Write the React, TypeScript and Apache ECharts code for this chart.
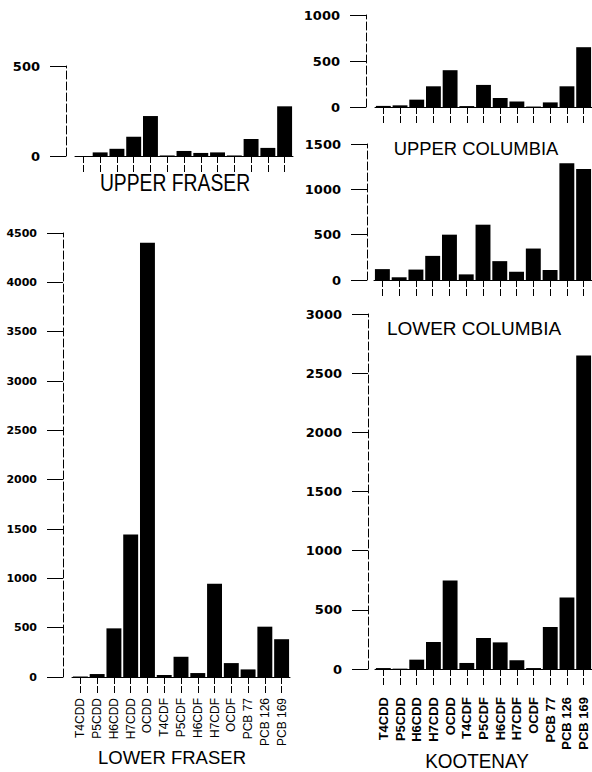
import React, { useEffect, useRef } from "react";
import * as echarts from "echarts";

const categories = ["T4CDD", "P5CDD", "H6CDD", "H7CDD", "OCDD", "T4CDF", "P5CDF", "H6CDF", "H7CDF", "OCDF", "PCB 77", "PCB 126", "PCB 169"];
const upperFraser = [0, 20, 40, 107, 222, 3, 28, 17, 20, 3, 95, 45, 276];
const lowerFraser = [5, 30, 493, 1443, 4400, 20, 205, 40, 946, 141, 77, 510, 383];
const upperColumbia = [12, 18, 80, 225, 400, 10, 240, 98, 60, 5, 50, 225, 650];
const lowerColumbia = [120, 30, 115, 266, 500, 62, 610, 208, 91, 347, 110, 1288, 1223];
const kootenay = [8, 3, 79, 228, 748, 51, 262, 225, 73, 8, 355, 605, 2650];

const titles = ["UPPER FRASER", "LOWER FRASER", "UPPER COLUMBIA", "LOWER COLUMBIA", "KOOTENAY"];

export default function App() {
  const ref = useRef<HTMLDivElement>(null);
  useEffect(() => {
    if (!ref.current) return;
    const chart = echarts.init(ref.current, null, { renderer: "svg" });
    const panels = [
      { data: upperFraser, max: 500, grid: { left: 75, top: 66, width: 218, height: 90 }, offset: 9, labels: null, yFont: 13 },
      { data: lowerFraser, max: 4500, grid: { left: 72, top: 233, width: 218, height: 444 }, offset: 9, labels: { margin: 21, fontSize: 12, fontWeight: "normal" }, yFont: 11 },
      { data: upperColumbia, max: 1000, grid: { left: 375, top: 15, width: 218, height: 92 }, offset: 9, labels: null, yFont: 13 },
      { data: lowerColumbia, max: 1500, grid: { left: 374, top: 144, width: 218, height: 136 }, offset: 7, labels: null, yFont: 13 },
      { data: kootenay, max: 3000, grid: { left: 375, top: 314, width: 218, height: 355 }, offset: 7, labels: { margin: 28, fontSize: 13, fontWeight: "bold" }, yFont: 13 },
    ];
    const titlePos = [
      { x: 175, y: 183, size: 23, sx: 0.84 },
      { x: 172, y: 757, size: 18.5, sx: 1 },
      { x: 476, y: 148, size: 19, sx: 0.97 },
      { x: 474, y: 328, size: 19, sx: 1 },
      { x: 477, y: 761, size: 21, sx: 0.9 },
    ];
    const option: any = {
      animation: false,
      backgroundColor: "#fff",
      grid: panels.map((p) => ({ ...p.grid, containLabel: false })),
      xAxis: panels.map((p, i) => ({
        gridIndex: i,
        type: "category",
        data: categories,
        axisLine: { show: true, lineStyle: { color: "#000", width: 1 } },
        axisTick: { show: true, alignWithLabel: true, interval: 0, length: 16, lineStyle: { color: "#000", type: [7, 2] } },
        axisLabel: p.labels
          ? {
              show: true,
              interval: 0,
              rotate: 90,
              margin: p.labels.margin,
              color: "#000",
              fontFamily: "Liberation Sans, Arial, sans-serif",
              fontSize: p.labels.fontSize,
              fontWeight: p.labels.fontWeight,
            }
          : { show: false },
        splitLine: { show: false },
      })),
      yAxis: panels.map((p, i) => ({
        gridIndex: i,
        type: "value",
        min: 0,
        max: p.max,
        interval: 500,
        offset: p.offset,
        axisLine: { show: true, lineStyle: { color: "#000", width: 1, type: [8, 3] } },
        axisTick: { show: true, length: 16, lineStyle: { color: "#000" } },
        axisLabel: {
          margin: 26,
          color: "#000",
          fontFamily: "DejaVu Sans, sans-serif",
          fontWeight: "bold",
          fontSize: p.yFont,
          formatter: (v: number) => String(v),
        },
        splitLine: { show: false },
      })),
      series: panels.map((p, i) => ({
        type: "bar",
        xAxisIndex: i,
        yAxisIndex: i,
        data: p.data,
        barCategoryGap: "11%",
        itemStyle: { color: "#000" },
      })),
      graphic: titles.map((t, i) => ({
        type: "text",
        x: titlePos[i].x,
        y: titlePos[i].y,
        scaleX: titlePos[i].sx,
        style: {
          text: t,
          font: `${titlePos[i].size}px "Liberation Sans", Arial, sans-serif`,
          fill: "#000",
          textAlign: "center",
          textVerticalAlign: "middle",
          align: "center",
          verticalAlign: "middle",
        },
      })),
    };
    chart.setOption(option);
    return () => chart.dispose();
  }, []);
  return <div ref={ref} style={{ position: "absolute", left: 0, top: 0, width: 592, height: 772 }} />;
}
